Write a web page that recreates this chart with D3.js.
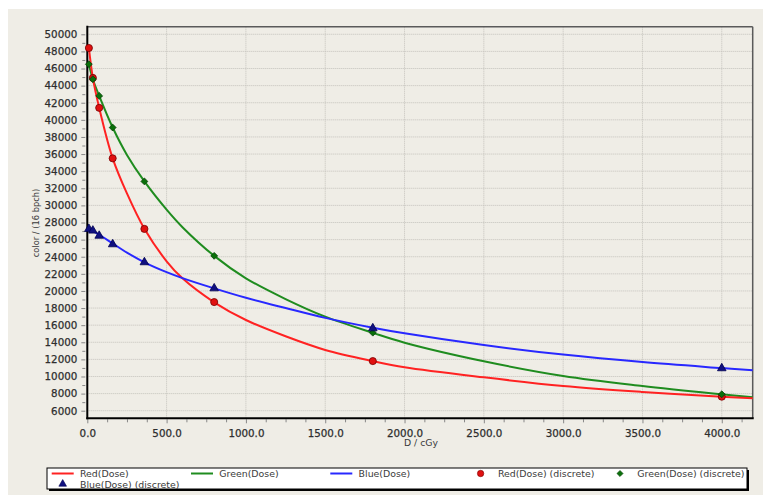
<!DOCTYPE html>
<html><head><meta charset="utf-8">
<script src="https://cdn.jsdelivr.net/npm/d3@7"></script>
<style>
body{margin:0;background:#fff}
svg{display:block}
text{font-family:"DejaVu Sans",Verdana,sans-serif}
</style>
</head><body>
<svg id="c" width="763" height="495"></svg>
<script>
// ---- data ----
const curveDose  = [10, 35, 75, 160, 250, 360, 500, 600, 800, 1000, 1250, 1500, 1800, 2000, 2500, 3000, 3500, 4000, 4195];
const redCurve   = [48400, 44900, 41400, 35500, 31400, 27270, 23470, 21470, 18670, 16600, 14700, 13100, 11800, 11080, 9900, 8890, 8190, 7640, 7450];
const greenCurve = [46500, 44750, 42800, 39100, 35900, 32800, 29500, 27450, 24100, 21480, 19050, 16990, 15100, 13950, 11780, 10060, 8890, 7920, 7570];
const blueCurve  = [27250, 26980, 26570, 25550, 24480, 23350, 22200, 21500, 20300, 19200, 18000, 16850, 15700, 15050, 13680, 12560, 11680, 10980, 10720];

const pointDose   = [10, 35, 75, 160, 360, 800, 1800, 4000];
const redPoints   = [48400, 44900, 41400, 35500, 27250, 18700, 11800, 7640];
const greenPoints = [46500, 44750, 42800, 39100, 32800, 24100, 15120, 7920];
const bluePoints  = [27250, 27050, 26450, 25450, 23350, 20300, 15630, 10960];

const yTickValues = [6000, 8000, 10000, 12000, 14000, 16000, 18000, 20000, 22000, 24000, 26000, 28000, 30000, 32000, 34000, 36000, 38000, 40000, 42000, 44000, 46000, 48000, 50000];
const xTickValues = [0, 500, 1000, 1500, 2000, 2500, 3000, 3500, 4000];
const legendLabels = ["Red(Dose)", "Green(Dose)", "Blue(Dose)", "Red(Dose) (discrete)", "Green(Dose) (discrete)", "Blue(Dose) (discrete)"];
const xTitle = "D / cGy";
const yTitle = "color / (16 bpch)";

// ---- drawing ----
const svg = d3.select("#c");
const L = 87.3, R = 752.7, T = 26.7, B = 418.3;
const x = d3.scaleLinear().domain([0, 4195]).range([L, R]);
const y = d3.scaleLinear().domain([5112, 50888]).range([B, T]);

const bg = "#EFEDE6";
svg.append("rect").attr("x", 8).attr("y", 9).attr("width", 755).attr("height", 486).attr("fill", bg);

// grid
const grid = svg.append("g");
grid.selectAll("line.h").data(yTickValues).join("line")
  .attr("x1", L).attr("x2", R).attr("y1", d => y(d)).attr("y2", d => y(d))
  .attr("stroke", "#c4c2bc").attr("stroke-width", 1).attr("stroke-dasharray", "1,1");
grid.selectAll("line.v").data(xTickValues.filter(d => d > 0)).join("line")
  .attr("y1", T).attr("y2", B).attr("x1", d => x(d)).attr("x2", d => x(d))
  .attr("stroke", "#c4c2bc").attr("stroke-width", 1).attr("stroke-dasharray", "1,1");

// top / right frame
svg.append("line").attr("x1", L).attr("x2", R).attr("y1", T).attr("y2", T).attr("stroke", "#5a5a5a").attr("stroke-width", 1.5);
svg.append("line").attr("x1", R).attr("x2", R).attr("y1", T).attr("y2", B).attr("stroke", "#5a5a5a").attr("stroke-width", 1.5);

// axes
const yAxis = d3.axisLeft(y).tickValues(yTickValues).tickSize(4).tickPadding(4).tickFormat(d3.format("d"));
svg.append("g").attr("transform", `translate(${L - 2},0)`).call(yAxis);
const yMinor = d3.axisLeft(y).tickValues(d3.range(7000, 50001, 2000)).tickSize(3).tickFormat("");
svg.append("g").attr("transform", `translate(${L - 2},0)`).call(yMinor);

const xAxis = d3.axisBottom(x).tickValues(xTickValues).tickSize(4).tickPadding(6).tickFormat(d3.format(".1f"));
svg.append("g").attr("transform", `translate(0,${B + 1})`).call(xAxis);
const xMinor = d3.axisBottom(x).tickValues(d3.range(125, 4195, 125).filter(d => d % 500 !== 0)).tickSize(3).tickFormat("");
svg.append("g").attr("transform", `translate(0,${B + 1})`).call(xMinor);

svg.selectAll(".domain").remove();
svg.selectAll(".tick line").attr("stroke", "#888");
svg.selectAll(".tick text").attr("fill", "#2e2e2e").attr("stroke", "#2e2e2e").attr("stroke-width", 0.25)
  .attr("font-size", 10.3).attr("font-family", "DejaVu Sans");

svg.append("line").attr("x1", L).attr("x2", L).attr("y1", T - 1).attr("y2", B + 1).attr("stroke", "#000").attr("stroke-width", 2);
svg.append("line").attr("x1", L - 1).attr("x2", R + 1).attr("y1", B).attr("y2", B).attr("stroke", "#000").attr("stroke-width", 2);

// titles
svg.append("text").attr("x", (L + R) / 2 + 1).attr("y", 446).attr("text-anchor", "middle")
  .attr("font-size", 9.3).attr("fill", "#3a3a3a").text(xTitle);
svg.append("text").attr("transform", `translate(39,${223}) rotate(-90)`).attr("text-anchor", "middle")
  .attr("font-size", 8.3).attr("fill", "#3a3a3a").text(yTitle);

// curves
const plot = svg.append("g");
const line = d3.line().x(d => x(d[0])).y(d => y(d[1])).curve(d3.curveCatmullRom.alpha(0.5));
const series = [
  {vals: greenCurve, color: "#1f8c1f"},
  {vals: redCurve, color: "#ff2222"},
  {vals: blueCurve, color: "#2828ff"}
];
series.forEach(s => {
  plot.append("path").datum(curveDose.map((d, i) => [d, s.vals[i]]))
    .attr("fill", "none").attr("stroke", s.color).attr("stroke-width", 2).attr("d", line);
});

// markers
const sym = d3.symbol();
const markers = [
  {vals: redPoints, type: d3.symbolCircle, size: 40, fill: "#e01010", stroke: "#700"},
  {vals: greenPoints, type: d3.symbolDiamond2 || d3.symbolDiamond, size: 30, fill: "#0a700a", stroke: "#064006"},
  {vals: bluePoints, type: d3.symbolTriangle, size: 32, fill: "#101080", stroke: "#000050"}
];
markers.forEach(m => {
  plot.selectAll(null).data(pointDose.map((d, i) => [d, m.vals[i]])).join("path")
    .attr("transform", d => `translate(${x(d[0])},${y(d[1])})`)
    .attr("d", sym.type(m.type).size(m.size)())
    .attr("fill", m.fill).attr("stroke", m.stroke).attr("stroke-width", 0.8);
});

// legend
const lg = svg.append("g");
lg.append("rect").attr("x", 49).attr("y", 470).attr("width", 700).attr("height", 21).attr("fill", "#000");
lg.append("rect").attr("x", 47).attr("y", 468).attr("width", 700).attr("height", 21).attr("fill", "#fff").attr("stroke", "#000").attr("stroke-width", 1);
const colX = [51.7, 191, 330.3, 469.6, 609];
const lineColors = ["#ff2222", "#1f8c1f", "#2828ff"];
legendLabels.forEach((lab, i) => {
  const col = i < 5 ? i : 0;
  const rowY = i < 5 ? 473.5 : 484;
  const cx = colX[col];
  if (i < 3) {
    lg.append("line").attr("x1", cx).attr("x2", cx + 22).attr("y1", rowY).attr("y2", rowY)
      .attr("stroke", lineColors[i]).attr("stroke-width", 2);
  } else {
    const m = markers[i - 3];
    lg.append("path").attr("transform", `translate(${cx + 11},${rowY})`)
      .attr("d", sym.type(m.type).size(m.size * 0.8)())
      .attr("fill", m.fill).attr("stroke", m.stroke).attr("stroke-width", 0.6);
  }
  lg.append("text").attr("x", cx + 28.3).attr("y", rowY + 3.5).attr("font-size", 9.4)
    .attr("fill", "#3a3a3a").text(lab);
});
</script>
</body></html>
